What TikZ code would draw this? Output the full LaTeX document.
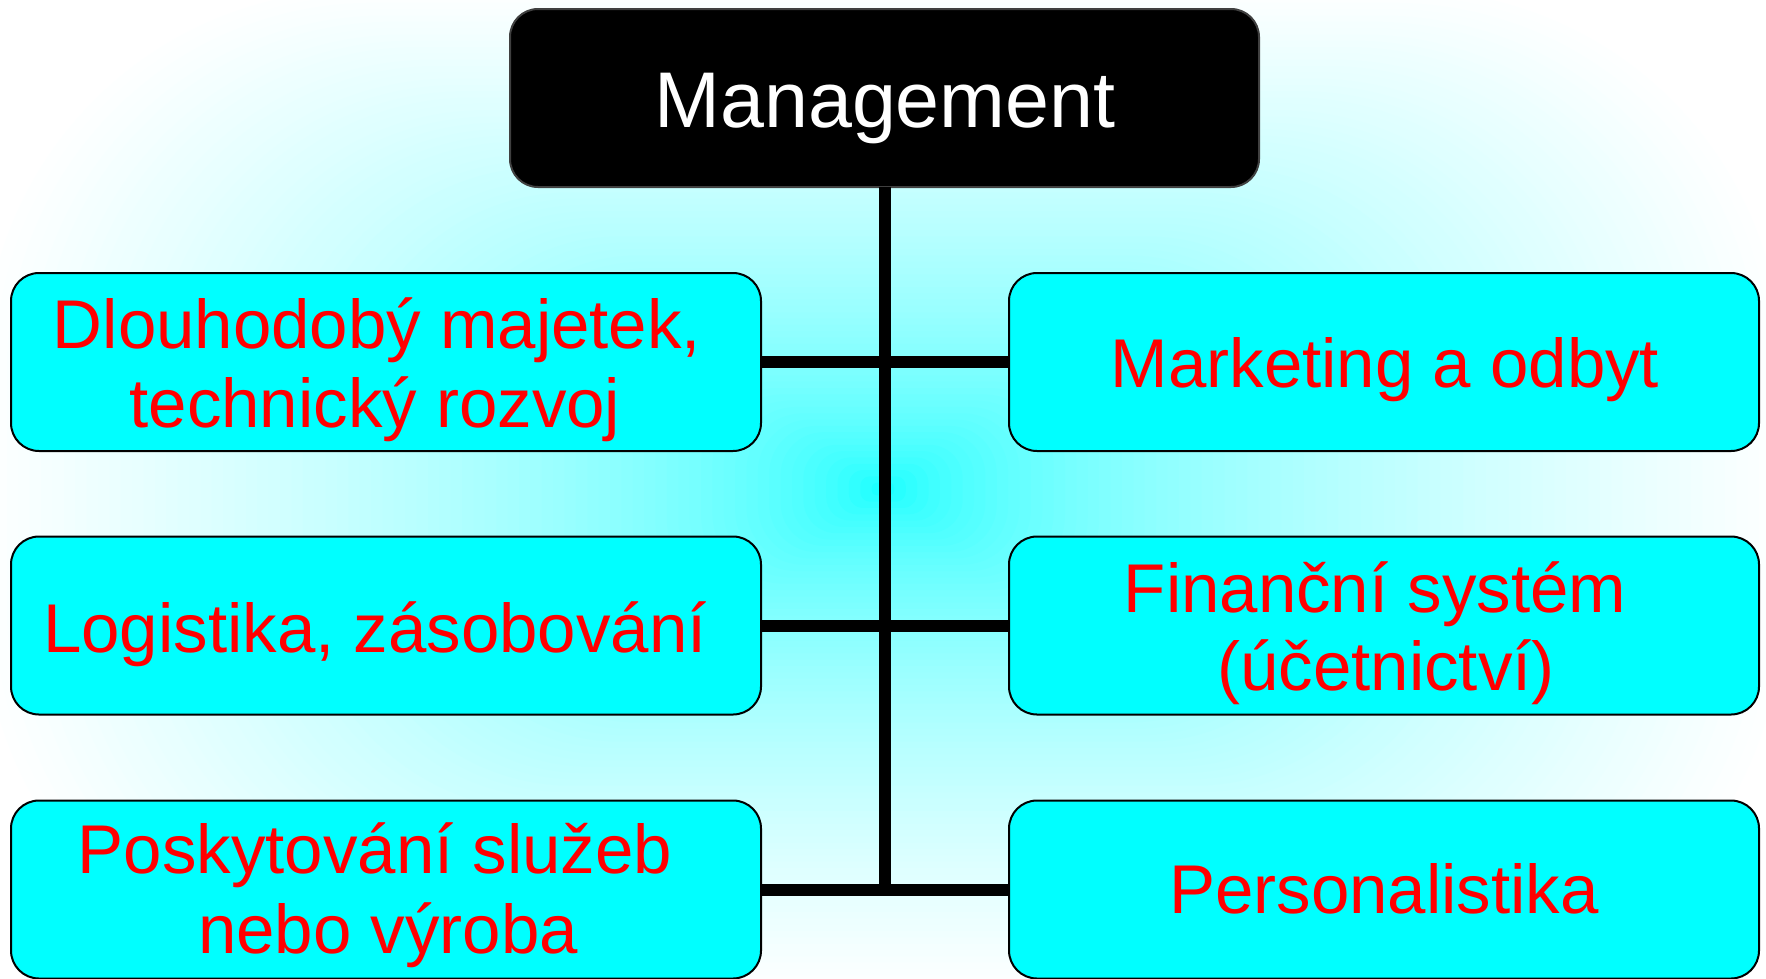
\documentclass[tikz,border=0pt]{standalone}
\usepackage{fontspec}
\setmainfont{Liberation Sans}
\definecolor{cy}{RGB}{0,255,255}
\definecolor{rd}{RGB}{255,0,0}
\begin{document}
\begin{tikzpicture}[x=1pt,y=-1pt,
  box/.style={draw=black, line width=2pt, fill=cy, rounded corners=28pt,
    minimum width=750pt, minimum height=178pt, inner sep=0pt, outer sep=0pt},
  topbox/.style={box, fill=black, draw=black!75, minimum width=749pt},
  conn/.style={line width=12pt, black, line cap=butt},
  lbl/.style={anchor=base, text=rd, inner sep=0pt,
    font=\fontsize{69}{79}\selectfont},
  toplbl/.style={anchor=base, text=white, inner sep=0pt,
    font=\fontsize{79}{86}\selectfont}]
\useasboundingbox (0,0) rectangle (1766,978);
\fill[white] (0,0) rectangle (1766,978);
\begin{scope}
\clip (0,0) rectangle (1766,978);
\foreach \i in {80,79,...,1}{
  \pgfmathsetmacro\t{\i/80}
  \pgfmathsetmacro\p{100*(1-sqrt(\t))}
  \pgfmathsetmacro\ax{910*\t}
  \pgfmathsetmacro\by{505*\t}
  \pgfmathsetmacro\rc{380*\t}
  \fill[cy!\p!white, rounded corners=\rc pt]
    (883-\ax,489-\by) rectangle (883+\ax,489+\by);
}
\end{scope}

\node[topbox] (mgmt) at (884.5,98) {};
\node[box] (b1) at (386,362) {};
\node[box] (b2) at (386,625.5) {};
\node[box] (b3) at (386,889.5) {};
\node[box] (b4) at (1384,362) {};
\node[box] (b5) at (1384,625.5) {};
\node[box] (b6) at (1384,889.5) {};

\draw[conn] (mgmt.south) -- (mgmt.south |- b3.east);
\draw[conn] (b1.east) -- (b4.west);
\draw[conn] (b2.east) -- (b5.west);
\draw[conn] (b3.east) -- (b6.west);

\node[toplbl] (tm) at (885,127) {Management};

\node[lbl] (t1a) at (377,348) {Dlouhodobý majetek,};
\node[lbl] (t1b) at (375,427) {technický rozvoj};
\node[lbl] (t2) at (375,652) {Logistika, zásobování};
\node[lbl] (t3a) at (375,873) {Poskytování služeb};
\node[lbl] (t3b) at (388,953) {nebo výroba};

\node[lbl] (t4) at (1385,387) {Marketing a odbyt};
\node[lbl] (t5a) at (1375,612) {Finanční systém};
\node[lbl] (t5b) at (1386,690) {(účetnictví)};
\node[lbl] (t6) at (1384,913) {Personalistika};
\end{tikzpicture}
\end{document}
